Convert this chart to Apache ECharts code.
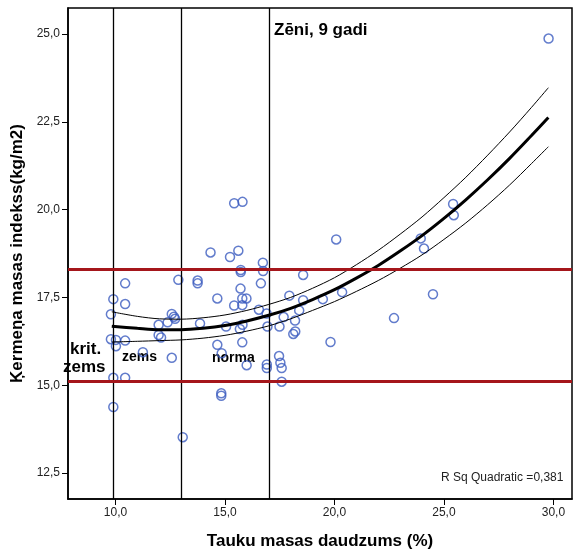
<!DOCTYPE html>
<html>
<head>
<meta charset="utf-8">
<script src="https://cdn.jsdelivr.net/npm/echarts@6/dist/echarts.min.js"></script>
<style>
html,body{margin:0;padding:0;background:#fff}
#c{width:574px;height:555px}
</style>
</head>
<body>
<div id="c"></div>
<script>
// Body fat percentage vs. body mass index, boys aged 9
const fatPct = [
  9.90, 9.79, 9.79, 10.02, 10.02, 9.90, 9.90, 10.44, 10.44, 10.44, 10.44,
  11.25, 11.97, 11.97, 12.08, 12.38, 12.57, 12.67, 12.72, 12.57, 12.87,
  13.75, 13.75, 13.86, 13.07, 14.34, 14.65, 14.65, 14.85, 14.83, 14.83,
  15.05, 15.23, 15.42, 15.80, 15.61, 15.42, 15.79, 15.72, 15.72, 15.71,
  15.79, 15.98, 15.68, 15.80, 15.79, 15.99, 16.55, 16.64, 16.73, 16.74,
  16.90, 16.94, 16.91, 16.91, 17.49, 17.47, 17.53, 17.59, 17.59, 17.68,
  17.94, 18.20, 18.21, 18.12, 18.39, 18.57, 18.57, 19.47, 20.08, 20.35,
  19.82, 22.72, 24.50, 23.94, 24.09, 25.42, 25.45, 29.78
];
const bmi = [
  17.45, 17.02, 16.31, 16.29, 16.11, 15.21, 14.38, 17.90, 17.31, 16.27, 15.21,
  15.94, 16.72, 16.43, 16.36, 16.79, 17.03, 16.95, 16.89, 15.78, 18.00,
  17.98, 17.90, 16.76, 13.52, 18.78, 17.47, 16.15, 15.91, 14.77, 14.70,
  16.67, 18.65, 20.18, 20.22, 18.83, 17.27, 17.28, 18.28, 18.22, 17.75,
  17.47, 17.47, 16.60, 16.72, 16.22, 15.57, 17.15, 17.90, 18.49, 18.25,
  17.04, 16.67, 15.59, 15.49, 16.67, 15.83, 15.64, 15.49, 15.10, 16.94,
  17.55, 16.84, 16.53, 16.46, 17.13, 18.14, 17.42, 17.45, 19.15, 17.65,
  16.23, 16.91, 17.59, 19.18, 18.89, 20.16, 19.84, 24.87
];

// Quadratic fit and its confidence band, sampled along the curves
const curveX = [9.83, 11, 12, 13, 14, 15, 16, 17, 18, 19, 20,
                21, 22, 23, 24, 25, 26, 27, 28, 29, 29.77];
const fitY   = [16.68, 16.62, 16.58, 16.58, 16.62, 16.70, 16.83, 16.99, 17.19, 17.44, 17.72,
                18.05, 18.41, 18.82, 19.26, 19.75, 20.28, 20.85, 21.46, 22.11, 22.62];
const upperY = [17.09, 16.96, 16.89, 16.88, 16.92, 17.00, 17.13, 17.30, 17.50, 17.76, 18.06,
                18.43, 18.84, 19.30, 19.79, 20.34, 20.92, 21.55, 22.21, 22.91, 23.47];
const lowerY = [16.23, 16.25, 16.27, 16.29, 16.34, 16.42, 16.54, 16.69, 16.89, 17.13, 17.38,
                17.67, 17.98, 18.33, 18.71, 19.15, 19.62, 20.14, 20.70, 21.31, 21.79];

// Category boundaries
const fatCutoffs = [9.9, 13, 17];
const bmiCutoffs = [18.3, 15.1];

const xTicks = [10, 15, 20, 25, 30];
const yTicks = [12.5, 15, 17.5, 20, 22.5, 25];

const FONT = '"Liberation Sans", Arial, sans-serif';
const fmt = v => Number(v).toFixed(1).replace('.', ',');
const pairs = (xs, ys) => xs.map((x, i) => [x, ys[i]]);

const chart = echarts.init(document.getElementById('c'), null, {renderer: 'canvas'});

const curve = (name, ys, width) => ({
  type: 'line', name, data: pairs(curveX, ys),
  smooth: 0.3, symbol: 'none', silent: true,
  lineStyle: {color: '#000', width}
});

chart.setOption({
  animation: false,
  backgroundColor: '#fff',
  grid: {
    left: 68, right: 2, top: 8, bottom: 55,
    show: true, borderColor: '#000', borderWidth: 1.5, backgroundColor: 'transparent'
  },
  xAxis: {
    type: 'value', min: 7.83, max: 30.85,
    name: 'Tauku masas daudzums (%)',
    nameLocation: 'middle', nameGap: 34,
    nameTextStyle: {fontFamily: FONT, fontWeight: 'bold', fontSize: 17, color: '#000'},
    axisLine: {show: true, onZero: false, lineStyle: {color: '#000', width: 1.5}},
    axisTick: {show: true, length: 6, lineStyle: {color: '#000', width: 1}, customValues: xTicks},
    axisLabel: {fontFamily: FONT, fontSize: 12, color: '#222', margin: 8, formatter: fmt, customValues: xTicks},
    splitLine: {show: false}
  },
  yAxis: {
    type: 'value', min: 11.76, max: 25.74,
    name: 'Ķermeņa masas indekss(kg/m2)',
    nameLocation: 'middle', nameGap: 42,
    nameTextStyle: {fontFamily: FONT, fontWeight: 'bold', fontSize: 17, color: '#000'},
    axisLine: {show: true, onZero: false, lineStyle: {color: '#000', width: 1.5}},
    axisTick: {show: true, length: 6, lineStyle: {color: '#000', width: 1}, customValues: yTicks},
    axisLabel: {fontFamily: FONT, fontSize: 12, color: '#222', margin: 8, formatter: fmt, customValues: yTicks},
    splitLine: {show: false}
  },
  series: [
    {
      type: 'line', name: 'cutoffs', data: [], silent: true,
      markLine: {
        silent: true, symbol: ['none', 'none'], animation: false,
        label: {show: false},
        data: [
          ...fatCutoffs.map(v => ({xAxis: v, lineStyle: {color: '#000', width: 1.3, type: 'solid'}})),
          ...bmiCutoffs.map(v => ({yAxis: v, lineStyle: {color: '#a5161b', width: 3, type: 'solid'}}))
        ]
      }
    },
    curve('upper', upperY, 1),
    curve('lower', lowerY, 1),
    curve('fit', fitY, 3),
    {
      type: 'scatter', name: 'boys', data: pairs(fatPct, bmi),
      symbol: 'circle', symbolSize: 9,
      itemStyle: {color: 'rgba(255,255,255,0)', borderColor: '#3b5bbf', borderWidth: 1.5}
    }
  ],
  graphic: [
    {type: 'text', left: 274, top: 22, style: {text: 'Zēni, 9 gadi', font: 'bold 17px ' + FONT, fill: '#000'}},
    {type: 'text', left: 70, top: 341, style: {text: 'krit.', font: 'bold 17px ' + FONT, fill: '#000'}},
    {type: 'text', left: 63, top: 359, style: {text: 'zems', font: 'bold 17px ' + FONT, fill: '#000'}},
    {type: 'text', left: 122, top: 350, style: {text: 'zems', font: 'bold 14px ' + FONT, fill: '#000'}},
    {type: 'text', left: 212, top: 351, style: {text: 'norma', font: 'bold 14px ' + FONT, fill: '#000'}},
    {type: 'text', left: 441, top: 472, style: {text: 'R Sq Quadratic =0,381', font: '12px ' + FONT, fill: '#222'}}
  ]
});
</script>
</body>
</html>
